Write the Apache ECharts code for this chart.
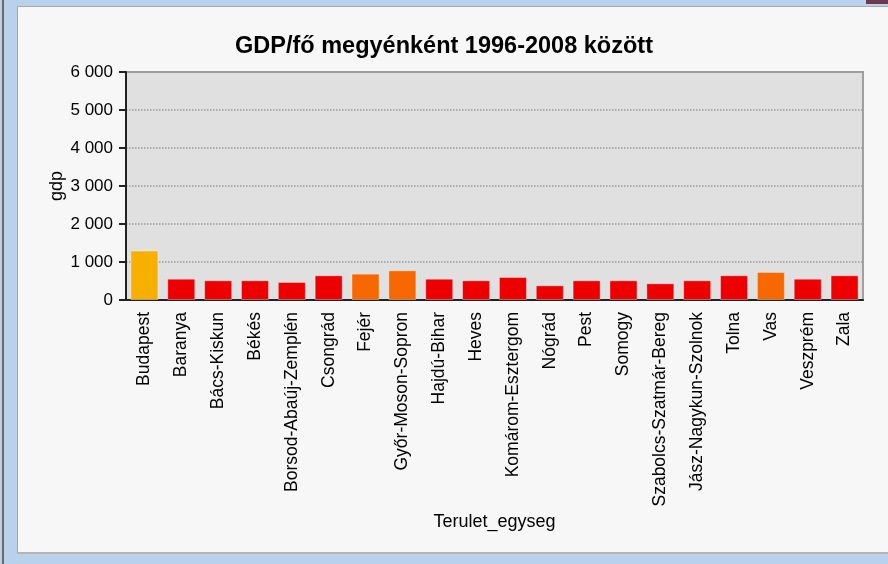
<!DOCTYPE html>
<html>
<head>
<meta charset="utf-8">
<script src="https://cdn.jsdelivr.net/npm/echarts@6/dist/echarts.min.js"></script>
<style>
  html, body { margin: 0; padding: 0; }
  body { width: 888px; height: 564px; background: #b9d1ea; position: relative; overflow: hidden; }
  .edge { position: absolute; left: 2px; top: 0; width: 2px; height: 564px; background: #6a6a6a; }
  .panel { position: absolute; left: 17px; top: 6px; width: 871px; height: 548px;
           background: #f7f7f7; border-top: 1px solid #a8a8a8; border-left: 1px solid #a8a8a8;
           border-bottom: 2px solid #b4b4b4; box-sizing: border-box; }
  .icon { position: absolute; left: 866px; top: 0; width: 22px; height: 4px; background: #6b3a4e; }
  #main { position: absolute; left: 0; top: 0; width: 888px; height: 564px; }
</style>
</head>
<body>
<div class="edge"></div>
<div class="panel"></div>
<div class="icon"></div>
<div id="main"></div>
<script>
// megyék
var counties = ['Budapest', 'Baranya', 'Bács-Kiskun', 'Békés', 'Borsod-Abaúj-Zemplén', 'Csongrád',
  'Fejér', 'Győr-Moson-Sopron', 'Hajdú-Bihar', 'Heves', 'Komárom-Esztergom', 'Nógrád', 'Pest',
  'Somogy', 'Szabolcs-Szatmár-Bereg', 'Jász-Nagykun-Szolnok', 'Tolna', 'Vas', 'Veszprém', 'Zala'];
// GDP/fő értékek (leolvasva)
var gdpValues = [1300, 560, 518, 518, 474, 650, 693, 781, 560, 518, 605, 386, 518, 518, 439, 518, 650, 737, 560, 650];
var yTicks = [0, 1000, 2000, 3000, 4000, 5000, 6000];

function fmt (v) {
  return String(v).replace(/\B(?=(\d{3})+(?!\d))/g, ' ');
}
// szín az érték alapján
function barColor (v) {
  if (v >= 1000) return '#f8b000';
  if (v >= 680) return '#f86800';
  return '#ee0000';
}

var chart = echarts.init(document.getElementById('main'));
var font = 'Liberation Sans, Arial, sans-serif';

chart.setOption({
  animation: false,
  title: {
    text: 'GDP/fő megyénként 1996-2008 között',
    left: 'center',
    top: 30,
    textStyle: { fontFamily: font, fontSize: 23.5, fontWeight: 'bold', color: '#000' }
  },
  grid: {
    left: 126, top: 72, right: 25, bottom: 264,
    show: true, backgroundColor: '#e0e0e0', borderColor: '#a0a0a0', borderWidth: 2
  },
  xAxis: {
    type: 'category',
    data: counties,
    name: 'Terulet_egyseg',
    nameLocation: 'middle',
    nameGap: 213,
    nameTextStyle: { fontFamily: font, fontSize: 18, color: '#000' },
    axisLine: { lineStyle: { color: '#222', width: 2 } },
    axisTick: { alignWithLabel: true, length: 7, lineStyle: { color: '#222', width: 2 } },
    axisLabel: { rotate: 90, interval: 0, margin: 12, fontFamily: font, fontSize: 17.5, color: '#000' }
  },
  yAxis: {
    type: 'value',
    min: yTicks[0],
    max: yTicks[yTicks.length - 1],
    interval: 1000,
    name: 'gdp',
    nameLocation: 'middle',
    nameMoveOverlap: false,
    nameGap: 60,
    nameTextStyle: { fontFamily: font, fontSize: 18, color: '#000' },
    axisLine: { show: true, lineStyle: { color: '#222', width: 2 } },
    axisTick: { show: true, length: 7, lineStyle: { color: '#222', width: 2 } },
    axisLabel: { margin: 13, fontFamily: font, fontSize: 17, color: '#000', formatter: fmt },
    splitLine: { lineStyle: { color: '#9a9a9a', type: 'dotted', width: 1.5 } }
  },
  series: [{
    type: 'bar',
    data: gdpValues,
    barWidth: 28,
    itemStyle: {
      color: function (p) { return barColor(p.value); },
      borderColor: 'rgba(255,255,255,0.35)',
      borderWidth: 1
    }
  }]
});
</script>
</body>
</html>
